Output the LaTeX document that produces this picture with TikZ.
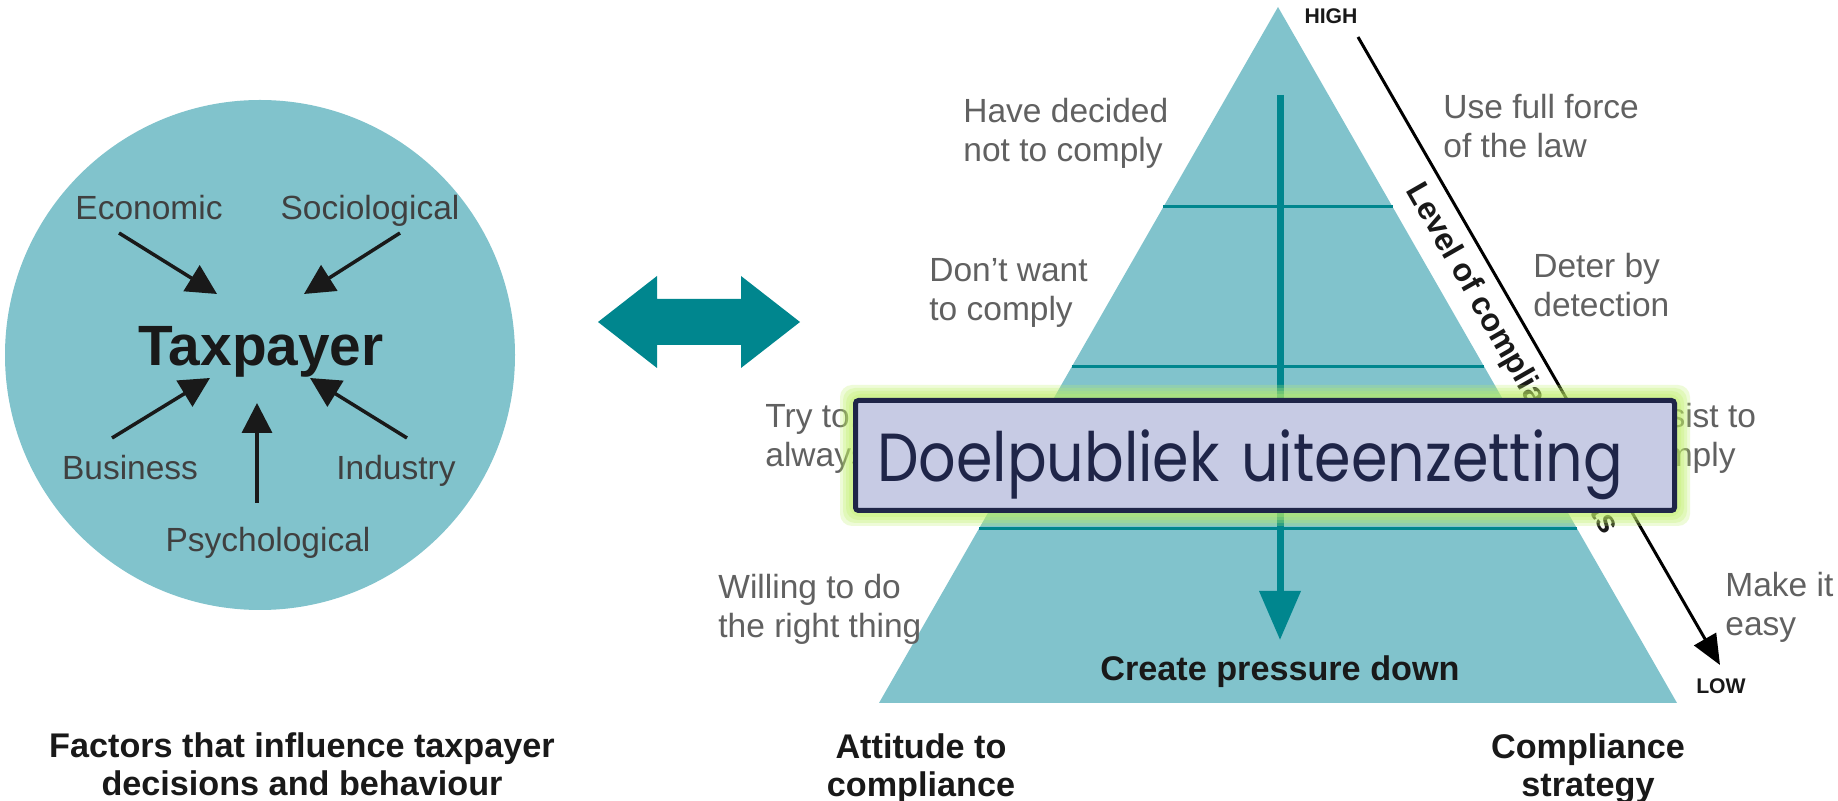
\documentclass[tikz,border=0pt]{standalone}
\usepackage{fontspec}
\usepackage{graphicx}
\setmainfont{Liberation Sans}
\newfontfamily\boxfont{Poppins}[FakeStretch=0.9]
\usetikzlibrary{arrows.meta,calc}
\definecolor{pyr}{RGB}{129,195,204}
\definecolor{tealdk}{RGB}{0,134,142}
\definecolor{glow}{RGB}{190,240,100}
\definecolor{boxfill}{RGB}{199,203,228}
\definecolor{boxline}{RGB}{31,37,72}
\tikzset{lbl/.style={inner sep=0pt, text=black!62, font=\fontsize{16.75}{19.5}\selectfont, align=left, anchor=north west}}
\tikzset{flbl/.style={inner sep=0pt, text=black!75, font=\fontsize{16.75}{19.5}\selectfont, anchor=north}}
\tikzset{hd/.style={inner sep=0pt, text=black!90, font=\fontsize{17.1}{19}\selectfont\bfseries, align=center, anchor=north}}
\tikzset{push/.style={line width=1.75pt, black!90, -{Triangle[length=15pt,width=15pt]}}}
\tikzset{tier/.style={draw=tealdk, line width=1.5pt}}

\begin{document}
\begin{tikzpicture}[x=0.5pt, y=-0.5pt]
    \useasboundingbox[fill=white] (0,0) rectangle (1838,801);

    % factors round the taxpayer
    \fill[pyr] (260,355) circle[radius=127.5pt];
    \node[flbl] (eco) at (149,195) {Economic};
    \node[flbl] (soc) at (370,195) {Sociological};
    \node[flbl] (bus) at (130,455) {Business};
    \node[flbl] (ind) at (396,455) {Industry};
    \node[flbl] (psy) at (268,527) {Psychological};
    \node[hd, font=\fontsize{28.4}{30}\selectfont\bfseries] (tax) at (261,326) {Taxpayer};
    \foreach \n/\sx/\sy/\tx/\ty in {eco/119/233/217/294, soc/400/233/304/294,
            bus/112/438/210/378, ind/407/438/310/378, psy/257/503/257/403}{
        \coordinate (\n-a) at (\sx,\sy);
        \coordinate (\n-b) at (\tx,\ty);
        \draw[push] (\n-a) -- (\n-b);
    }
    \node[hd] (fac) at (302,732) {Factors that influence taxpayer\\decisions and behaviour};

    % two-way arrow
    \fill[tealdk] (598,322) -- (657,276) -- (657,299) -- (741,299) -- (741,276) -- (800,322)
        -- (741,368) -- (741,345) -- (657,345) -- (657,368) -- cycle;

    % pyramid
    \coordinate (apex) at (1278,7);
    \coordinate (bl) at (879,703);
    \coordinate (br) at (1677,703);
    \fill[pyr] (apex) -- (bl) -- (br) -- cycle;
    \foreach \y in {207,367,529}
        \draw[tier] ({1278-0.573*(\y-7)},\y) -- ({1278+0.573*(\y-7)},\y);
    \coordinate (ptop) at (1280,95);
    \coordinate (ptip) at (1280,640);
    \draw[tealdk, line width=3.5pt, -{Triangle[length=24.5pt,width=20pt]}] (ptop) -- (ptip);
    \node[hd] (cpd) at (1280,655) {Create pressure down};

    % attitudes
    \node[lbl] (hdc) at (963,98) {Have decided\\not to comply};
    \node[lbl] (dwc) at (929,258) {Don’t want\\to comply};
    \node[lbl] (try) at (765,403) {Try to, but don’t\\always succeed};
    \node[lbl] (wil) at (718,574) {Willing to do\\the right thing};
    \node[hd] (att) at (921,733) {Attitude to\\compliance};

    % strategies
    \node[lbl] (law) at (1443,94) {Use full force\\of the law};
    \node[lbl] (det) at (1533,253) {Deter by\\detection};
    \node[lbl] (ast) at (1629,403) {Assist to\\comply};
    \node[lbl] (esy) at (1725,572) {Make it\\easy};
    \node[hd] (str) at (1588,733) {Compliance\\strategy};

    % level axis
    \coordinate (hi) at (1358,37);
    \coordinate (lo) at (1720,665);
    \draw[line width=1.5pt, -{Triangle[length=15pt,width=12.5pt]}] (hi) -- (lo);
    \node[hd, font=\fontsize{10.6}{12}\selectfont\bfseries] (high) at (1331,8) {HIGH};
    \node[hd, font=\fontsize{10.6}{12}\selectfont\bfseries] (low) at (1721,678) {LOW};
    \node[inner sep=0pt, text=black!90, font=\fontsize{16}{19}\selectfont\bfseries, rotate=-60.2]
        (lvl) at (1511.6,359) {Level of compliance costs};

    % overlay box
    \coordinate (bx-nw) at (853,398);
    \coordinate (bx-se) at (1677,513);
    \foreach \g in {13,10,7,4}
        \fill[glow, opacity=0.25, rounded corners=6pt] ($(bx-nw)+(-\g,-\g)$) rectangle ($(bx-se)+(\g,\g)$);
    \node[draw=boxline, line width=2.5pt, fill=boxfill, rounded corners=1.5pt, text=boxline,
        font=\boxfont\fontsize{34}{40}\selectfont, inner xsep=10.75pt, inner ysep=0pt,
        text width=388pt, align=left, minimum height=55pt, text height=34pt, text depth=7.5pt]
        (doel) at ($(bx-nw)!0.5!(bx-se)$) {\scalebox{0.96}[1]{Doelpubliek uiteenzetting}};
\end{tikzpicture}
\end{document}
